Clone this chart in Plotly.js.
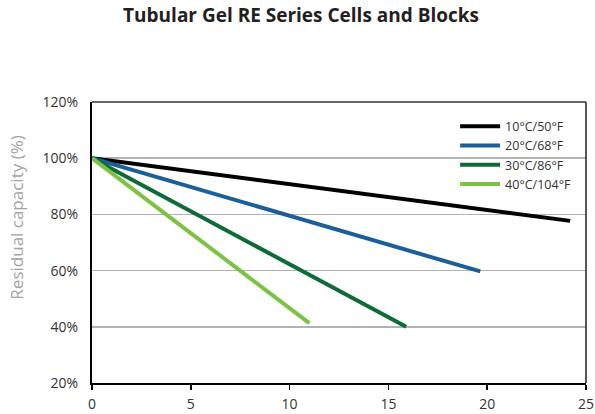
<!DOCTYPE html>
<html>
<head>
<meta charset="utf-8">
<script src="https://cdn.plot.ly/plotly-3.0.1.min.js"></script>
<style>html,body{margin:0;padding:0;background:#fff;}#chart{width:595px;height:414px;}</style>
</head>
<body>
<div id="chart"></div>
<script>
var seriesNames = ['10°C/50°F', '20°C/68°F', '30°C/86°F', '40°C/104°F'];
var seriesColors = ['#000000', '#1a5e9a', '#0e6b35', '#7cc243'];
var years10 = [0, 24.2];
var capacity10 = [100, 77.7];
var years20 = [0, 19.65];
var capacity20 = [100, 59.7];
var years30 = [0, 15.9];
var capacity30 = [100, 40];
var years40 = [0, 11.0];
var capacity40 = [100, 41.3];
var xTicks = [0, 5, 10, 15, 20, 25];
var yTicks = [20, 40, 60, 80, 100, 120];
var yTickLabels = ['20%', '40%', '60%', '80%', '100%', '120%'];

var xs = [years10, years20, years30, years40];
var ys = [capacity10, capacity20, capacity30, capacity40];
var traces = [];
for (var i = 0; i < 4; i++) {
  traces.push({
    x: xs[i], y: ys[i], name: seriesNames[i], type: 'scatter', mode: 'lines',
    line: {color: seriesColors[i], width: 4}
  });
}
var fontFam = '"Open Sans", Lato, sans-serif';
var layout = {
  width: 595, height: 414,
  margin: {l: 92, r: 9, t: 102, b: 31, pad: 0},
  paper_bgcolor: '#fff', plot_bgcolor: '#fff',
  font: {family: fontFam, color: '#333', size: 13},
  title: {text: '<b>Tubular Gel RE Series Cells and Blocks</b>', x: 0.506, xanchor: 'center', y: 0.962, yanchor: 'middle', font: {family: fontFam, size: 19, color: '#231f20'}},
  xaxis: {
    range: [0, 25], tickvals: xTicks, ticktext: xTicks.map(String),
    showgrid: false, zeroline: false, showline: true, linecolor: '#000', linewidth: 2, mirror: false,
    ticks: 'outside', ticklen: 5, tickwidth: 1.5, tickcolor: '#000',
    ticklabelstandoff: 2,
    tickfont: {size: 14, color: '#333'}
  },
  yaxis: {
    range: [20, 120], tickvals: yTicks, ticktext: yTickLabels,
    showgrid: true, gridcolor: '#b3b3b3', gridwidth: 1.5, zeroline: false,
    showline: true, linecolor: '#000', linewidth: 2,
    ticks: 'outside', ticklen: 9, tickcolor: 'rgba(0,0,0,0)',
    tickfont: {size: 14, color: '#333'}
  },
  annotations: [
    {text: 'Residual capacity (%)', xref: 'paper', yref: 'paper', x: -0.153, y: 0.59, xanchor: 'center', yanchor: 'middle', textangle: -90, showarrow: false, font: {size: 17, color: '#a3a3a3'}}
  ],
  shapes: [
    {type: 'rect', xref: 'paper', yref: 'y', x0: 0.719, x1: 0.998, y0: 99.4, y1: 100.6, fillcolor: '#fff', line: {width: 0}, layer: 'between'},
    {type: 'line', xref: 'paper', yref: 'paper', x0: 0, x1: 1, y0: 1, y1: 1, line: {color: '#333', width: 1.5}},
    {type: 'line', xref: 'paper', yref: 'paper', x0: 1, x1: 1, y0: 0, y1: 1, line: {color: '#222', width: 1.5}}
  ],
  showlegend: true,
  legend: {
    x: 0.735, xanchor: 'left', y: 0.966, yanchor: 'top',
    bgcolor: 'rgba(0,0,0,0)', borderwidth: 0,
    font: {size: 12.5, color: '#333'}, itemwidth: 40, tracegroupgap: 0
  }
};
Plotly.newPlot('chart', traces, layout, {displayModeBar: false, staticPlot: true});
</script>
</body>
</html>
